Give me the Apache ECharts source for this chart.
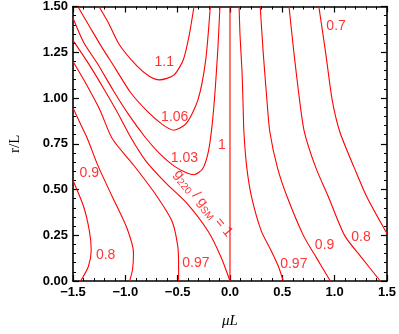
<!DOCTYPE html>
<html>
<head>
<meta charset="utf-8">
<script src="https://cdn.jsdelivr.net/npm/echarts@6/dist/echarts.min.js"></script>
<style>
  html, body { margin: 0; padding: 0; background: #fff; }
  #chart { width: 399px; height: 334px; }
</style>
</head>
<body>
<div id="chart"></div>
<script>
// contour lines, [muL, r/L]
var c110 = [[-1.252,1.5],[-1.161,1.410],[-1.060,1.294],[-0.894,1.178],[-0.775,1.120],[-0.674,1.099],[-0.537,1.125],[-0.445,1.210],[-0.390,1.342],[-0.344,1.5]];
var c106 = [[-1.454,1.5],[-1.335,1.384],[-1.225,1.278],[-1.096,1.162],[-0.950,1.030],[-0.784,0.924],[-0.647,0.856],[-0.537,0.824],[-0.417,0.861],[-0.307,0.988],[-0.234,1.199],[-0.188,1.5]];
var c103 = [[-1.5,1.437],[-1.399,1.305],[-1.261,1.183],[-1.115,1.041],[-0.968,0.909],[-0.812,0.787],[-0.674,0.697],[-0.537,0.629],[-0.417,0.592],[-0.344,0.581],[-0.261,0.613],[-0.206,0.708],[-0.170,0.856],[-0.142,1.041],[-0.115,1.278],[-0.096,1.5]];
var cOne = [[-1.5,1.315],[-1.353,1.189],[-1.206,1.051],[-1.078,0.924],[-0.950,0.787],[-0.803,0.655],[-0.619,0.539],[-0.417,0.428],[-0.206,0.269],[-0.087,0.132],[0,0]];
var c097L = [[-1.5,1.199],[-1.381,1.083],[-1.243,0.935],[-1.124,0.777],[-0.922,0.634],[-0.720,0.481],[-0.555,0.328],[-0.500,0.195],[-0.491,0.090],[-0.491,0]];
var c090L = [[-1.5,0.946],[-1.427,0.856],[-1.362,0.777],[-1.261,0.629],[-1.124,0.460],[-0.986,0.291],[-0.922,0.153],[-0.931,0.063],[-0.959,0]];
var c080L = [[-1.5,0.549],[-1.399,0.407],[-1.344,0.275],[-1.326,0.169],[-1.353,0.079],[-1.427,0]];
var cZero = [[0,0],[0,1.5]];
var c097R = [[0.087,1.5],[0.096,1.342],[0.115,1.146],[0.124,0.988],[0.133,0.814],[0.161,0.618],[0.206,0.460],[0.298,0.275],[0.390,0.169],[0.463,0.079],[0.509,0]];
var c090R = [[0.289,1.5],[0.317,1.252],[0.353,0.988],[0.381,0.814],[0.454,0.618],[0.546,0.460],[0.702,0.248],[0.821,0.132],[0.959,0]];
var c080R = [[0.564,1.5],[0.610,1.252],[0.665,0.988],[0.711,0.814],[0.821,0.618],[0.940,0.460],[1.096,0.248],[1.252,0.132],[1.436,0]];
var c070R = [[0.849,1.5],[0.913,1.252],[0.977,0.988],[1.050,0.814],[1.188,0.618],[1.307,0.460],[1.5,0.259]];

// contour level labels
var levelText = ['1.1', '1.06', '1.03', '1', '0.9', '0.8', '0.97', '0.97', '0.9', '0.8', '0.7'];
var levelPos = [[-0.628,1.194],[-0.528,0.893],[-0.436,0.671],[-0.078,0.740],[-1.344,0.592],[-1.188,0.143],[-0.326,0.100],[0.610,0.090],[0.904,0.195],[1.252,0.238],[1.014,1.395]];
var diagPos = [-0.255, 0.425];

var RED = '#ff0000';
var chart = echarts.init(document.getElementById('chart'));

var contours = [c110, c106, c103, cOne, c097L, c090L, c080L, cZero, c097R, c090R, c080R, c070R];
var series = contours.map(function (d) {
  return {
    type: 'line', data: d, showSymbol: false, silent: true, smooth: 0.25,
    lineStyle: { color: RED, width: 1.1 }
  };
});

series.push({
  type: 'scatter', symbolSize: 1, silent: true,
  itemStyle: { color: 'transparent' },
  data: levelPos.map(function (p, i) { return { value: p, name: levelText[i] }; }),
  label: {
    show: true, position: 'inside', formatter: '{b}',
    color: RED, fontSize: 14, fontFamily: 'Liberation Sans'
  }
});

series.push({
  type: 'scatter', symbolSize: 1, silent: true,
  itemStyle: { color: 'transparent' },
  data: [diagPos],
  label: {
    show: true, position: 'inside', rotate: -50,
    formatter: '{n|g}{s|220}{n| / g}{s|SM}{n| = 1}',
    rich: {
      n: { fontSize: 14, color: RED, fontFamily: 'Liberation Sans', lineHeight: 18, verticalAlign: 'middle' },
      s: { fontSize: 10, color: RED, fontFamily: 'Liberation Sans', lineHeight: 10, verticalAlign: 'bottom' }
    }
  }
});

function baseAxis(extra) {
  var a = {
    type: 'value',
    axisLine: { show: true, onZero: false, lineStyle: { color: '#000', width: 1.6 } },
    axisTick: { show: true, inside: true, length: 6, lineStyle: { color: '#000', width: 1.2 } },
    minorTick: { show: true, splitNumber: 5, length: 3, lineStyle: { color: '#000', width: 1 } },
    splitLine: { show: false },
    minorSplitLine: { show: false }
  };
  for (var k in extra) a[k] = extra[k];
  return a;
}

var xLabelStyle = {
  color: '#000', fontSize: 13, fontWeight: 'bold', fontFamily: 'Liberation Sans', margin: 5,
  formatter: function (v) { return v.toFixed(1).replace('-', '\u2212'); }
};
var yLabelStyle = {
  color: '#000', fontSize: 13, fontWeight: 'bold', fontFamily: 'Liberation Sans', margin: 5,
  formatter: function (v) { return v.toFixed(2); }
};

chart.setOption({
  backgroundColor: '#fff',
  animation: false,
  grid: { left: 62, right: 10, top: 3, bottom: 47 },
  xAxis: [
    baseAxis({ min: -1.5, max: 1.5, interval: 0.5, position: 'bottom', axisLabel: xLabelStyle,
      name: '\u03bcL', nameLocation: 'middle', nameGap: 33,
      nameTextStyle: { color: '#000', fontSize: 15, fontFamily: 'Liberation Serif', fontStyle: 'italic' } }),
    baseAxis({ min: -1.5, max: 1.5, interval: 0.5, position: 'top', axisLabel: { show: false } })
  ],
  yAxis: [
    baseAxis({ min: 0, max: 1.5, interval: 0.25, position: 'left', axisLabel: yLabelStyle,
      name: 'r/L', nameLocation: 'middle', nameGap: 50, nameRotate: 90,
      nameTextStyle: { color: '#000', fontSize: 15, fontFamily: 'Liberation Serif' } }),
    baseAxis({ min: 0, max: 1.5, interval: 0.25, position: 'right', axisLabel: { show: false } })
  ],
  series: series
});
</script>
</body>
</html>
